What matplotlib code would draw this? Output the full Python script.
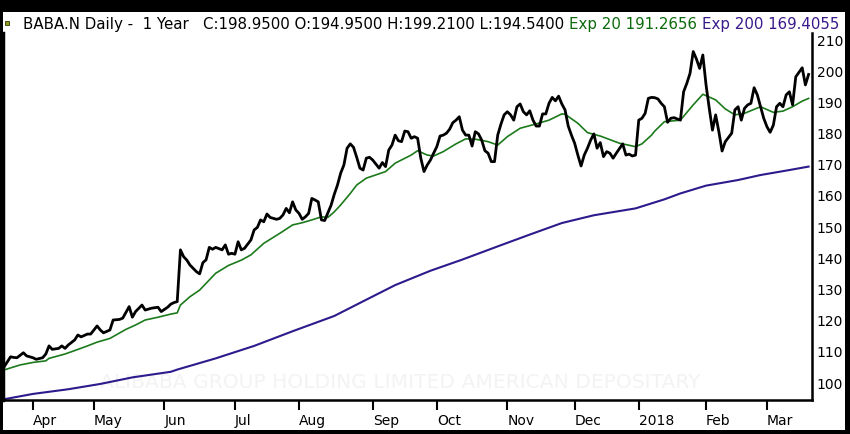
import matplotlib
matplotlib.use("Agg")
import matplotlib.pyplot as plt
from matplotlib.patches import Rectangle

# ---------------- data (x = trading-day index, 0 = 3 Apr 2017) ----------------
close_day = [-9, -8, -7, -6, -5, -3, -2, 0, 1, 3, 4, 5, 6, 8, 9, 10, 11, 13, 14, 15,
             17, 18, 20, 21, 22, 24, 25, 27, 28, 30, 31, 32, 34, 35, 37, 39, 40, 42, 43, 44,
             45, 46, 47, 48, 49, 51, 52, 53, 54, 55, 56, 57, 59, 60, 61, 62, 63, 64, 65, 66,
             68, 69, 70, 71, 72, 73, 74, 76, 77, 78, 79, 80, 81, 82, 83, 84, 85, 86, 87, 88,
             89, 90, 91, 93, 94, 95, 96, 97, 98, 99, 100, 101, 102, 103, 104, 105, 106, 108, 109, 110,
             111, 112, 113, 114, 115, 116, 117, 118, 119, 120, 121, 122, 123, 124, 125, 126, 127, 128, 129, 130,
             131, 132, 133, 134, 135, 136, 137, 138, 139, 140, 141, 142, 143, 144, 145, 146, 147, 148, 149, 150,
             151, 152, 153, 154, 155, 156, 157, 158, 159, 160, 161, 162, 163, 164, 165, 166, 167, 168, 169, 170,
             171, 172, 173, 174, 175, 176, 177, 178, 179, 180, 181, 182, 184, 185, 186, 187, 188, 189, 190, 191,
             192, 193, 194, 195, 196, 197, 198, 199, 200, 202, 203, 204, 205, 206, 207, 208, 209, 210, 211, 212,
             213, 214, 215, 216, 218, 219, 220, 221, 222, 223, 224, 225, 226, 227, 228, 229, 230, 231, 232, 233,
             234, 235, 236, 237, 238, 240, 241, 242]
close_val = [105.2, 106.8, 108.4, 108.2, 108.1, 109.7, 108.7, 108.1, 107.6, 108.1, 109.3, 111.9, 110.8, 111.1, 111.9, 111.1, 112.2, 113.8, 115.4, 114.8,
             115.7, 115.7, 118.3, 117.0, 116.1, 117.0, 120.2, 120.4, 120.8, 124.5, 121.1, 122.9, 125.0, 123.4, 124.0, 124.3, 122.9, 124.3, 125.3, 125.8,
             126.1, 142.7, 140.5, 139.4, 137.8, 135.7, 135.0, 138.6, 139.5, 143.5, 142.9, 143.5, 142.7, 144.3, 141.3, 141.6, 141.3, 145.3, 142.7, 143.2,
             145.9, 149.1, 149.9, 152.3, 151.7, 154.2, 153.1, 152.5, 152.8, 153.9, 156.0, 154.6, 158.1, 155.5, 154.4, 152.5, 153.3, 154.4, 159.2, 158.7,
             158.1, 152.3, 152.1, 157.0, 160.5, 163.5, 167.3, 169.9, 175.3, 176.7, 175.6, 172.4, 168.9, 168.3, 172.1, 172.4, 171.5, 168.9, 170.7, 169.4,
             174.7, 176.3, 179.5, 177.7, 177.4, 180.8, 180.6, 178.5, 179.0, 178.5, 172.1, 167.8, 169.9, 171.5, 173.7, 175.8, 179.2, 179.5, 180.1, 181.4,
             183.5, 184.3, 185.4, 181.1, 179.5, 179.5, 176.0, 180.6, 179.9, 177.9, 174.5, 173.7, 171.0, 171.0, 179.5, 183.0, 186.0, 187.0, 186.0, 184.3,
             188.6, 189.5, 187.0, 186.0, 187.3, 184.3, 182.4, 182.4, 186.3, 186.3, 189.7, 191.6, 190.5, 192.0, 189.5, 187.6, 182.4, 179.5, 176.9, 173.1,
             169.6, 173.1, 175.3, 177.9, 179.9, 175.3, 177.1, 172.6, 174.2, 173.7, 172.1, 173.7, 176.7, 173.1, 173.4, 172.8, 173.1, 184.3, 184.9, 186.5,
             191.3, 191.6, 191.5, 191.1, 189.7, 188.6, 183.6, 184.9, 185.1, 184.3, 193.4, 196.1, 199.3, 206.3, 203.9, 200.9, 205.2, 195.6, 188.1, 181.1,
             186.0, 180.6, 174.4, 177.4, 180.1, 187.6, 188.6, 184.3, 188.1, 189.2, 189.7, 194.7, 192.4, 188.6, 184.9, 182.2, 180.4, 182.7, 188.6, 189.7,
             188.6, 192.4, 193.4, 189.2, 198.2, 201.1, 195.6, 198.95]

ema20_day = [-9, -4, 0, 4, 5, 10, 13, 17, 20, 24, 29, 32, 35, 39, 43, 45, 46, 49, 52, 57,
             61, 65, 68, 72, 77, 81, 84, 87, 90, 92, 94, 96, 99, 101, 104, 110, 113, 118, 120, 123,
             125, 128, 132, 135, 138, 142, 145, 148, 152, 157, 161, 165, 166, 170, 173, 177, 183, 188, 190, 193,
             194, 197, 202, 206, 209, 213, 216, 219, 222, 227, 231, 234, 237, 240, 242]
ema20_val = [104.2, 105.8, 106.6, 107.1, 107.9, 109.3, 110.4, 111.9, 113.1, 114.3, 117.2, 118.6, 120.2, 121.1, 122.1, 122.5, 125.0, 127.7, 129.8, 135.2,
             137.7, 139.4, 141.1, 144.8, 148.0, 150.7, 151.4, 152.3, 153.3, 153.1, 154.9, 157.1, 160.8, 163.5, 165.7, 167.8, 170.5, 173.1, 174.5, 173.1,
             172.8, 174.2, 176.7, 178.3, 178.2, 177.4, 176.3, 179.0, 181.7, 183.1, 184.3, 186.3, 186.2, 183.3, 180.3, 179.2, 176.9, 175.8, 176.7, 179.5,
             180.8, 183.8, 184.3, 189.2, 192.6, 190.8, 187.9, 186.0, 186.5, 188.6, 186.8, 187.2, 188.6, 190.4, 191.27]

ema200_day = [-9, 0, 11, 21, 31, 43, 45, 57, 69, 81, 94, 103, 113, 124, 134, 146, 155, 165, 175, 188,
              197, 202, 210, 220, 227, 236, 242]
ema200_val = [94.8, 96.5, 98.0, 99.7, 101.8, 103.6, 104.3, 107.9, 111.9, 116.6, 121.5, 126.2, 131.4, 136.0, 139.6, 144.2, 147.6, 151.3, 153.8, 156.0,
              158.9, 160.8, 163.3, 165.1, 166.7, 168.3, 169.41]

month_days = [0, 19, 41, 63, 83, 106, 126, 148, 169, 189, 210, 229]
month_labels = ["Apr", "May", "Jun", "Jul", "Aug", "Sep", "Oct", "Nov", "Dec", "2018", "Feb", "Mar"]
price_ticks = [100, 110, 120, 130, 140, 150, 160, 170, 180, 190, 200, 210]

header_main = "BABA.N Daily -  1 Year   C:198.9500 O:194.9500 H:199.2100 L:194.5400"
header_e20 = "Exp 20 191.2656"
header_e200 = "Exp 200 169.4055"
watermark = "ALIBABA GROUP HOLDING LIMITED AMERICAN DEPOSITARY"

# ---------------- styling ----------------
C_CLOSE = "#000000"
C_E20 = "#1c7a1c"
C_E200 = "#2e1a8c"
C_HDR20 = "#0b6b0b"
C_HDR200 = "#3a1a8a"

W, H = 850, 434
fig = plt.figure(figsize=(W / 100, H / 100), dpi=100)
fig.patch.set_facecolor("white")


def fx(px):
    return px / W


def fy(py):
    return 1 - py / H


ax = fig.add_axes([fx(3), fy(400), fx(812) - fx(3), fy(33) - fy(400)])
ax.set_facecolor("white")
ax.set_xlim(-9.36, 243.06)
ax.set_ylim(94.55, 212.25)

ax.plot(ema200_day, ema200_val, color=C_E200, lw=1.5, zorder=2, solid_joinstyle="round")
ax.plot(ema20_day, ema20_val, color=C_E20, lw=1.2, zorder=2, solid_joinstyle="round")
ax.plot(close_day, close_val, color=C_CLOSE, lw=2.0, zorder=3, solid_joinstyle="round")

ax.spines["top"].set_visible(False)
ax.spines["left"].set_linewidth(2.5)
ax.spines["right"].set_linewidth(1.8)
ax.spines["bottom"].set_linewidth(1.8)
for s in ["left", "right", "bottom"]:
    ax.spines[s].set_color("black")

ax.yaxis.tick_right()
ax.set_yticks(price_ticks)
ax.set_yticklabels([str(v) for v in price_ticks])
ax.tick_params(axis="y", length=0, pad=3.5, labelsize=10, colors="black")

ax.set_xticks(month_days)
ax.set_xticklabels(month_labels)
ax.tick_params(axis="x", length=7.2, width=1.5, direction="out", pad=3, labelsize=10, colors="black")
for lbl in ax.get_xticklabels():
    lbl.set_horizontalalignment("left")

# frame of the picture
for (x0, y0, w, h) in [(0, fy(12), 1, 1 - fy(12)),
                       (0, 0, fx(3), 1),
                       (fx(845), 0, 1 - fx(845), 1),
                       (0, 0, 1, 4 / H)]:
    fig.patches.append(Rectangle((x0, y0), w, h, transform=fig.transFigure,
                                 facecolor="black", edgecolor="none", zorder=10))

# small icon
fig.patches.append(Rectangle((fx(5), fy(25)), 4 / W, 4 / H, transform=fig.transFigure,
                             facecolor="#8e9c1c", edgecolor="#333300", lw=0.6, zorder=11))

renderer = fig.canvas.get_renderer()


def text_width(s, fs):
    t = fig.text(0, 0, s, fontsize=fs)
    w = t.get_window_extent(renderer).width
    t.remove()
    return w


# header, scaled to span the same width as the reference
parts = [(header_main, "black"), (header_e20, C_HDR20), (header_e200, C_HDR200)]
fs = 10.0
sp = text_width("x x", fs) - text_width("xx", fs)
total = sum(text_width(s, fs) for s, _ in parts) + 2 * sp
fs = fs * 818.0 / total
sp = text_width("x x", fs) - text_width("xx", fs)
xpos = 23.0
for s, c in parts:
    fig.text(fx(xpos), fy(24), s, color=c, fontsize=fs, ha="left", va="center", zorder=12)
    xpos += text_width(s, fs) + sp

# faint watermark
wfs = 14.0
wfs = wfs * 600.0 / text_width(watermark, wfs)
ax.text((400 - 3) / 809, (400 - 383) / 367, watermark, transform=ax.transAxes,
        fontsize=wfs, color="#f3f3f3", ha="center", va="center", zorder=0.5)

fig.savefig("out.png", dpi=100, facecolor="white")
